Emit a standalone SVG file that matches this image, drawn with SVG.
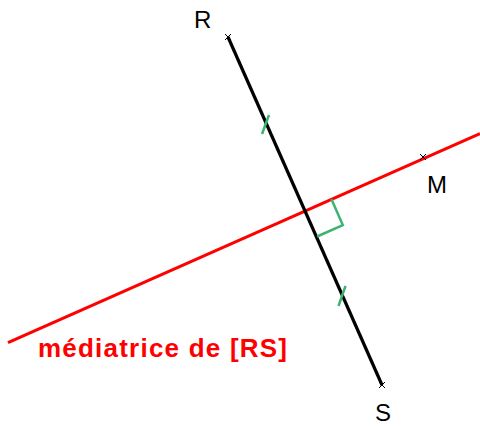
<svg xmlns="http://www.w3.org/2000/svg" width="480" height="430" viewBox="0 0 480 430">
<style>
.lbl{font-family:"Liberation Sans",Arial,sans-serif;font-size:24px;fill:#000}
.red{stroke:#ff0000;stroke-width:3.2;fill:none}
.seg{stroke:#000;stroke-width:3.2;fill:none}
.grn{stroke:#3cb371;stroke-width:2.5;fill:none}
.pt{stroke:#000;stroke-width:1;fill:none}
.title{font-family:"Liberation Sans",Arial,sans-serif;font-size:26px;font-weight:bold;fill:#ff0000}
</style>
<rect width="480" height="430" fill="#fff"/>
<g id="connectors">
<line id="mediatrice" class="red" x1="8" y1="342.6" x2="480" y2="133.6"/>
<line id="segment-RS" class="seg" x1="228" y1="37" x2="382" y2="385"/>
<polyline id="right-angle" class="grn" points="331.5,199.3 342.8,225.1 317.1,236.5"/>
<line id="tick1" class="grn" x1="269" y1="115" x2="262" y2="134"/>
<line id="tick2" class="grn" x1="345.5" y1="286" x2="338.5" y2="306"/>
</g>
<g id="R">
<path class="pt" d="M225,34 L231,40 M231,34 L225,40"/>
<text class="lbl" x="194" y="28">R</text>
</g>
<g id="S">
<path class="pt" d="M379,382 L385,388 M385,382 L379,388"/>
<text class="lbl" x="375" y="421">S</text>
</g>
<g id="M">
<path class="pt" d="M420,154 L426,160 M426,154 L420,160"/>
<text class="lbl" x="427" y="193">M</text>
</g>
<g id="label">
<text class="title" x="38" y="357" textLength="249" lengthAdjust="spacing">médiatrice de [RS]</text>
</g>
</svg>
